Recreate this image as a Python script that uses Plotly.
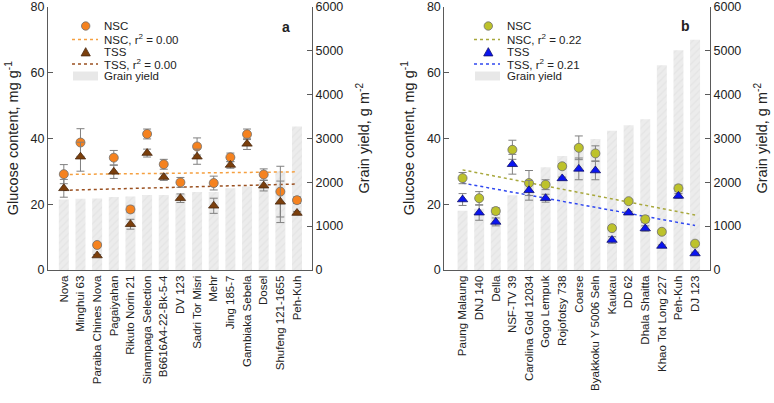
import plotly.graph_objects as go

W, H = 774, 403

# ---------------- data: panel a ----------------
cat_a = ["Nova", "Minghui 63", "Paraiba Chines Nova", "Pagaiyahan", "Rikuto Norin 21",
         "Sinampaga Selection", "B6616A4-22-Bk-5-4", "DV 123", "Sadri Tor Misri", "Mehr",
         "Jing 185-7", "Gambiaka Sebela", "Dosel", "Shufeng 121-1655", "Peh-Kuh"]
yield_a = [1608, 1623, 1630, 1660, 1675, 1706, 1706, 1736, 1774, 1774, 1864, 1902, 2000, 2250, 3270]
nsc_a = [29.1, 38.7, 7.6, 34.1, 18.4, 41.3, 32.1, 26.6, 37.5, 26.4, 34.2, 41.2, 29.0, 23.8, 21.2]
nsc_a_err = [2.9, 4.2, 0.5, 2.2, 1.0, 1.5, 1.5, 1.5, 2.6, 2.1, 1.3, 1.6, 1.7, 7.7, 1.0]
tss_a = [24.8, 34.4, 4.4, 29.8, 13.9, 35.5, 28.2, 21.8, 34.4, 19.5, 31.9, 38.3, 25.6, 20.7, 17.3]
tss_a_err = [2.7, 4.4, 0.3, 2.0, 1.5, 1.2, 1.0, 1.3, 2.3, 2.3, 1.0, 1.7, 1.6, 6.3, 0.5]
nsc_a_trend = [29.0, 29.8]
tss_a_trend = [24.2, 26.1]

# ---------------- data: panel b ----------------
cat_b = ["Paung Malaung", "DNJ 140", "Della", "NSF-TV 39", "Carolina Gold 12034",
         "Gogo Lempuk", "Rojofotsy 738", "Coarse", "Byakkoku Y 5006 Seln", "Kaukau",
         "DD 62", "Dhala Shaitta", "Khao Tot Long 227", "Peh-Kuh", "DJ 123"]
yield_b = [1350, 1396, 1419, 1700, 1950, 2340, 2596, 2860, 2981, 3170, 3298, 3434, 4664, 5004, 5245]
nsc_b = [27.9, 21.8, 17.9, 36.5, 26.4, 25.9, 31.5, 37.1, 35.4, 12.7, 20.9, 15.4, 11.6, 24.8, 8.0]
nsc_b_err = [1.7, 2.0, 1.0, 2.9, 3.8, 1.5, 0.8, 3.6, 2.3, 0.7, 0.5, 1.0, 0.6, 1.0, 0.5]
tss_b = [21.4, 17.4, 14.6, 32.1, 24.2, 21.8, 27.8, 30.7, 30.2, 9.1, 17.4, 12.6, 7.3, 22.5, 5.0]
tss_b_err = [1.8, 2.3, 1.2, 3.0, 3.0, 1.2, 0.4, 3.3, 2.8, 1.0, 0.4, 0.8, 0.3, 0.7, 0.4]
nsc_b_trend = [30.4, 16.7]
tss_b_trend = [26.4, 13.5]

legend_a = ["NSC", "NSC, r<sup>2</sup> = 0.00", "TSS", "TSS, r<sup>2</sup> = 0.00", "Grain yield"]
legend_b = ["NSC", "NSC, r<sup>2</sup> = 0.22", "TSS", "TSS, r<sup>2</sup> = 0.21", "Grain yield"]

FONT = "Liberation Sans, Arial, sans-serif"
AXC = "#5a5a5a"
ERRC = "#808080"

styles = {
    "a": dict(nsc="#F5821F", nsc_line="#6f6f6f", tss="#7B3F0C", tss_line="#4a2a10",
              nsc_tr="#F5A040", tss_tr="#9A5020"),
    "b": dict(nsc="#BDC22B", nsc_line="#6f6f6f", tss="#0A14F0", tss_line="#10106a",
              nsc_tr="#A8A83C", tss_tr="#3048F0"),
}

fig = go.Figure()


def add_panel(cats, yld, nsc, nsc_e, tss, tss_e, nsc_tr, tss_tr, xa, ya_y, ya_g, st):
    fig.add_trace(go.Bar(
        x=cats, y=yld, xaxis=xa, yaxis=ya_y, width=0.6,
        marker=dict(color="#ececec", line=dict(width=0),
                    pattern=dict(shape="/", fgcolor="#dcdcdc", bgcolor="#ececec",
                                 size=5, solidity=0.25)),
        showlegend=False, hoverinfo="skip"))
    fig.add_trace(go.Scatter(
        x=[cats[0], cats[-1]], y=nsc_tr, xaxis=xa, yaxis=ya_g, mode="lines",
        line=dict(color=st["nsc_tr"], width=1.5, dash="dot"), showlegend=False))
    fig.add_trace(go.Scatter(
        x=[cats[0], cats[-1]], y=tss_tr, xaxis=xa, yaxis=ya_g, mode="lines",
        line=dict(color=st["tss_tr"], width=1.5, dash="dot"), showlegend=False))
    fig.add_trace(go.Scatter(
        x=cats, y=nsc, xaxis=xa, yaxis=ya_g, mode="markers",
        error_y=dict(type="data", array=nsc_e, color=ERRC, thickness=1, width=4),
        marker=dict(symbol="circle", size=9, color=st["nsc"],
                    line=dict(color=st["nsc_line"], width=0.8)),
        showlegend=False))
    fig.add_trace(go.Scatter(
        x=cats, y=tss, xaxis=xa, yaxis=ya_g, mode="markers",
        error_y=dict(type="data", array=tss_e, color=ERRC, thickness=1, width=4),
        marker=dict(symbol="triangle-up", size=9, color=st["tss"],
                    line=dict(color=st["tss_line"], width=0.8)),
        showlegend=False))


add_panel(cat_a, yield_a, nsc_a, nsc_a_err, tss_a, tss_a_err, nsc_a_trend, tss_a_trend,
          "x", "y", "y2", styles["a"])
add_panel(cat_b, yield_b, nsc_b, nsc_b_err, tss_b, tss_b_err, nsc_b_trend, tss_b_trend,
          "x2", "y3", "y4", styles["b"])

ydom = [1 - 270 / H, 1 - 6.5 / H]
tickf = dict(family=FONT, size=12.5, color="#222")
titlef = dict(family=FONT, size=14.5, color="#222")
catf = dict(family=FONT, size=11.5, color="#222")


def xax(dom, anchor, rng):
    return dict(domain=dom, anchor=anchor, range=rng, type="category", tickangle=-90,
                showline=True, linecolor=AXC, linewidth=1, ticks="", showgrid=False,
                zeroline=False, tickfont=catf, automargin=False)


def yax_yield(anchor):
    return dict(domain=ydom, anchor=anchor, side="right", range=[0, 6000],
                tickvals=[0, 1000, 2000, 3000, 4000, 5000, 6000],
                showline=True, linecolor=AXC, linewidth=1, ticks="inside", ticklen=5,
                tickcolor=AXC, showgrid=False, zeroline=False, tickfont=tickf,
                ticklabeloverflow="allow",
                title=dict(text="Grain yield, g m<sup>-2</sup>", font=titlef, standoff=16),
                automargin=False)


def yax_gluc(anchor, over):
    return dict(domain=ydom, anchor=anchor, side="left", overlaying=over, range=[0, 80],
                tickvals=[0, 20, 40, 60, 80],
                showline=True, linecolor=AXC, linewidth=1, ticks="inside", ticklen=5,
                tickcolor=AXC, showgrid=False, zeroline=False, tickfont=tickf,
                ticklabeloverflow="allow",
                title=dict(text="Glucose content, mg g<sup>-1</sup>", font=titlef, standoff=8),
                automargin=False)


fig.update_layout(
    width=W, height=H, margin=dict(l=0, r=0, t=0, b=0),
    paper_bgcolor="white", plot_bgcolor="white", bargap=0.4,
    font=dict(family=FONT, color="#222"),
    xaxis=xax([48 / W, 312 / W], "y", [-0.95, 14.9]),
    yaxis=yax_yield("x"),
    yaxis2=yax_gluc("x", "y"),
    xaxis2=xax([444.3 / W, 710 / W], "y3", [-1.1, 14.9]),
    yaxis3=yax_yield("x2"),
    yaxis4=yax_gluc("x2", "y3"),
)

# ---------------- custom legends ----------------
shapes = []
annots = []


def px(x):
    return x / W


def py(y):
    return 1 - y / H


def legend(labels, sym_x, line_x0, line_x1, text_x, st):
    rows = [26, 39.5, 52, 64, 76]
    r = 4.2
    shapes.append(dict(type="circle", xref="paper", yref="paper",
                       x0=px(sym_x - r), x1=px(sym_x + r), y0=py(rows[0] + r), y1=py(rows[0] - r),
                       fillcolor=st["nsc"], line=dict(color=st["nsc_line"], width=0.8)))
    shapes.append(dict(type="line", xref="paper", yref="paper",
                       x0=px(line_x0), x1=px(line_x1), y0=py(rows[1]), y1=py(rows[1]),
                       line=dict(color=st["nsc_tr"], width=1.5, dash="dot")))
    t = 4.6
    path = "M {} {} L {} {} L {} {} Z".format(
        px(sym_x - t), py(rows[2] + t * 0.85), px(sym_x + t), py(rows[2] + t * 0.85),
        px(sym_x), py(rows[2] - t * 0.95))
    shapes.append(dict(type="path", xref="paper", yref="paper", path=path,
                       fillcolor=st["tss"], line=dict(color=st["tss_line"], width=0.8)))
    shapes.append(dict(type="line", xref="paper", yref="paper",
                       x0=px(line_x0), x1=px(line_x1), y0=py(rows[3]), y1=py(rows[3]),
                       line=dict(color=st["tss_tr"], width=1.5, dash="dot")))
    shapes.append(dict(type="rect", xref="paper", yref="paper",
                       x0=px(line_x0 + 1), x1=px(line_x1), y0=py(rows[4] + 4.5), y1=py(rows[4] - 4.5),
                       fillcolor="#e8e8e8", line=dict(width=0)))
    for lab, yy in zip(labels, rows):
        annots.append(dict(text=lab, xref="paper", yref="paper", x=px(text_x), y=py(yy),
                           xanchor="left", yanchor="middle", showarrow=False,
                           font=dict(family=FONT, size=11.5, color="#222")))


legend(legend_a, 85.7, 72, 98, 102, styles["a"])
legend(legend_b, 488.3, 474, 500, 505, styles["b"])

annots.append(dict(text="<b>a</b>", xref="paper", yref="paper", x=px(286), y=py(27),
                   xanchor="center", yanchor="middle", showarrow=False,
                   font=dict(family=FONT, size=14, color="#222")))
annots.append(dict(text="<b>b</b>", xref="paper", yref="paper", x=px(685), y=py(26),
                   xanchor="center", yanchor="middle", showarrow=False,
                   font=dict(family=FONT, size=14, color="#222")))

fig.update_layout(shapes=shapes, annotations=annots)

fig.write_html("out.html")
